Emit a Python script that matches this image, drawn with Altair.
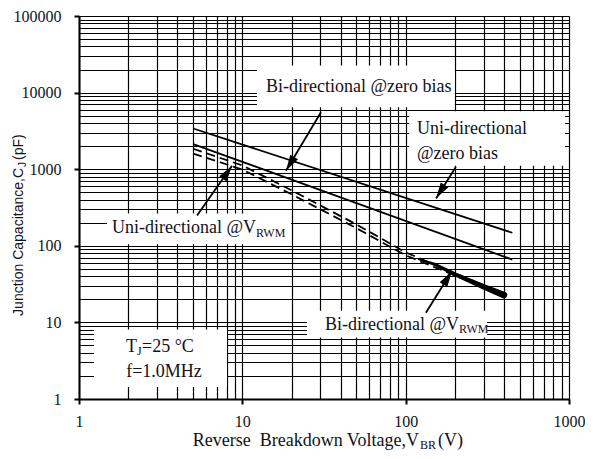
import altair as alt
import pandas as pd

# ---------------- axes: grid lines (all decade sub-divisions) and labelled decades
x_grid = [1, 2, 3, 4, 5, 6, 7, 8, 9,
          10, 20, 30, 40, 50, 60, 70, 80, 90,
          100, 200, 300, 400, 500, 600, 700, 800, 900, 1000]
y_grid = [1, 2, 3, 4, 5, 6, 7, 8, 9,
          10, 20, 30, 40, 50, 60, 70, 80, 90,
          100, 200, 300, 400, 500, 600, 700, 800, 900,
          1000, 2000, 3000, 4000, 5000, 6000, 7000, 8000, 9000,
          10000, 20000, 30000, 40000, 50000, 60000, 70000, 80000, 90000, 100000]
x_major = [1, 10, 100, 1000]
y_major = [1, 10, 100, 1000, 10000, 100000]

# ---------------- curves
v_zero = [5, 450]
c_uni_zero = [3400, 148]
c_bi_zero = [2130, 66]

v_rwm = [5, 10, 20, 50, 100, 200, 400]
c_uni_rwm = [1850, 1120, 530, 190, 82, 44, 23.5]
c_bi_rwm = [1600, 990, 470, 170, 75, 41, 22]

v_dense = [120, 150, 200, 300, 400]
c_dense = [67, 57.5, 42.5, 29.2, 22.7]
dense_width = [2, 3, 4, 5.2, 6.5]

# ---------------- annotation boxes (data units)
box_v1 = [12.3, 105, 1.484, 24.9, 1.236]
box_v2 = [200, 946, 19.87, 315, 8.06]
box_c1 = [6430, 1107, 105, 6.36, 1.43]
box_c2 = [22500, 5707, 264, 14.2, 8.07]

# ---------------- arrows (tail -> tip, data units)
arrow_v_tail = [30.3, 203, 5.28, 133]
arrow_c_tail = [5540, 1074, 249, 13.4]
arrow_v_tip = [18.5, 153.5, 8.65, 192]
arrow_c_tip = [953, 414, 1107, 46.9]
arrow_angle = [210.7, 212, 35, 31.8]

# ---------------- annotation texts
left_text = ["Bi-directional @zero bias", "Uni-directional", "@zero bias", "=25 \u00b0C"]
left_v = [13.96, 117.4, 117.4, 2.43]
left_c = [11670, 3337, 1583, 4.72]

right_text = ["Uni-directional @V", "Bi-directional @V", "T"]
right_v = [12.13, 212.3, 2.266]
right_c = [169, 9.37, 4.72]

sub_text = ["RWM", "RWM", "J"]
sub_v = [12.13, 212.3, 2.266]
sub_c = [145.6, 8.31, 4.19]

center_text = ["f=1.0MHz"]
center_v = [3.316]
center_c = [2.24]

INK = "#111118"
SERIF = "Liberation Serif"
SANS = "Liberation Sans"

x_test = "indexof([1, 10, 100, 1000], datum.value) >= 0"
y_test = "indexof([1, 10, 100, 1000, 10000, 100000], datum.value) >= 0"


def make_axis(values, test, pad):
    return alt.Axis(
        values=values, format="d", title=None,
        labelExpr=f"({test}) ? datum.label : ''",
        labelOverlap=False, labelFlush=False,
        grid=True, gridColor="#000000", gridWidth=1.2, gridOpacity=1,
        tickSize=5, tickWidth=2, tickColor="#000000",
        tickOpacity={"condition": {"test": test, "value": 1}, "value": 0},
        domainColor="#000000", domainWidth=2,
        labelFont=SERIF, labelFontSize=16, labelColor=INK, labelPadding=pad,
    )


x_axis = make_axis(x_grid, x_test, 9)
y_axis = make_axis(y_grid, y_test, 13)
x_scale = alt.Scale(type="log", domain=[1, 1000])
y_scale = alt.Scale(type="log", domain=[1, 100000])


def X(f):
    return alt.X(f"{f}:Q", scale=x_scale, axis=x_axis)


def Y(f):
    return alt.Y(f"{f}:Q", scale=y_scale, axis=y_axis)


boxes = pd.DataFrame({"v1": box_v1, "v2": box_v2, "c1": box_c1, "c2": box_c2})
box_layer = alt.Chart(boxes).mark_rect(fill="white", stroke=None).encode(
    x=X("v1"), x2="v2", y=Y("c1"), y2="c2")

zero = pd.DataFrame({"v": v_zero * 2, "c": c_uni_zero + c_bi_zero,
                     "s": ["uni"] * 2 + ["bi"] * 2})
zero_layer = alt.Chart(zero).mark_line(color="#000000", strokeWidth=1.8).encode(
    x=X("v"), y=Y("c"), detail="s:N")

rwm = pd.DataFrame({"v": v_rwm * 2, "c": c_uni_rwm + c_bi_rwm,
                    "s": ["uni"] * len(v_rwm) + ["bi"] * len(v_rwm)})
rwm_layer = alt.Chart(rwm).mark_line(color="#000000", strokeWidth=1.8,
                                     strokeDash=[9, 5]).encode(
    x=X("v"), y=Y("c"), detail="s:N")

dense = pd.DataFrame({"v": v_dense, "c": c_dense, "w": dense_width})
dense_layer = alt.Chart(dense).mark_trail(color="#000000").encode(
    x=X("v"), y=Y("c"), size=alt.Size("w:Q", scale=None, legend=None))

arrows = pd.DataFrame({"vt": arrow_v_tail, "ct": arrow_c_tail,
                       "vh": arrow_v_tip, "ch": arrow_c_tip, "a": arrow_angle})
shaft_layer = alt.Chart(arrows).mark_rule(color="#000000", strokeWidth=1.8).encode(
    x=X("vt"), y=Y("ct"), x2="vh", y2="ch")
head_layer = alt.Chart(arrows).mark_point(
    shape="M0,0L0.5,1.8L-0.5,1.8Z", filled=True, color="#000000",
    opacity=1, size=316, strokeWidth=0).encode(
    x=X("vh"), y=Y("ch"), angle=alt.Angle("a:Q", scale=None))

left_df = pd.DataFrame({"v": left_v, "c": left_c, "t": left_text})
left_layer = alt.Chart(left_df).mark_text(
    align="left", baseline="middle", font=SERIF, fontSize=18, color=INK).encode(
    x=X("v"), y=Y("c"), text="t:N")

right_df = pd.DataFrame({"v": right_v, "c": right_c, "t": right_text})
right_layer = alt.Chart(right_df).mark_text(
    align="right", baseline="middle", font=SERIF, fontSize=18, color=INK).encode(
    x=X("v"), y=Y("c"), text="t:N")

sub_df = pd.DataFrame({"v": sub_v, "c": sub_c, "t": sub_text})
sub_layer = alt.Chart(sub_df).mark_text(
    align="left", baseline="middle", font=SERIF, fontSize=12, color=INK).encode(
    x=X("v"), y=Y("c"), text="t:N")

center_df = pd.DataFrame({"v": center_v, "c": center_c, "t": center_text})
center_layer = alt.Chart(center_df).mark_text(
    align="center", baseline="middle", font=SERIF, fontSize=18, color=INK).encode(
    x=X("v"), y=Y("c"), text="t:N")

# ---------------- axis titles with subscripts (pixel positions relative to plot)
one = pd.DataFrame({"k": [0]})
xt_main = alt.Chart(one).mark_text(
    text="Reverse\u00a0 Breakdown Voltage,V", align="right", baseline="alphabetic",
    font=SERIF, fontSize=18, color=INK).encode(x=alt.value(340), y=alt.value(430))
xt_sub = alt.Chart(one).mark_text(
    text="BR", align="left", baseline="alphabetic",
    font=SERIF, fontSize=12, color=INK).encode(x=alt.value(341), y=alt.value(432.5))
xt_unit = alt.Chart(one).mark_text(
    text="(V)", align="left", baseline="alphabetic",
    font=SERIF, fontSize=18, color=INK).encode(x=alt.value(359), y=alt.value(430))

yt_main = alt.Chart(one).mark_text(
    text="Junction Capacitance,C", align="right", baseline="alphabetic", angle=270,
    font=SANS, fontSize=14, color=INK).encode(x=alt.value(-56), y=alt.value(152))
yt_sub = alt.Chart(one).mark_text(
    text="J", align="left", baseline="alphabetic", angle=270,
    font=SANS, fontSize=10, color=INK).encode(x=alt.value(-53), y=alt.value(151))
yt_unit = alt.Chart(one).mark_text(
    text="(pF)", align="left", baseline="alphabetic", angle=270,
    font=SANS, fontSize=14, color=INK).encode(x=alt.value(-56), y=alt.value(144))

chart = alt.layer(
    box_layer, zero_layer, rwm_layer, dense_layer, shaft_layer, head_layer,
    left_layer, right_layer, sub_layer, center_layer,
    xt_main, xt_sub, xt_unit, yt_main, yt_sub, yt_unit,
).properties(
    width=490, height=383,
    autosize=alt.AutoSizeParams(type="none"),
    padding={"left": 71, "top": 8, "right": 16, "bottom": 52},
).configure_view(stroke=None).configure(background="white")

chart.save("out.html", embed_options={"renderer": "svg", "actions": False})
